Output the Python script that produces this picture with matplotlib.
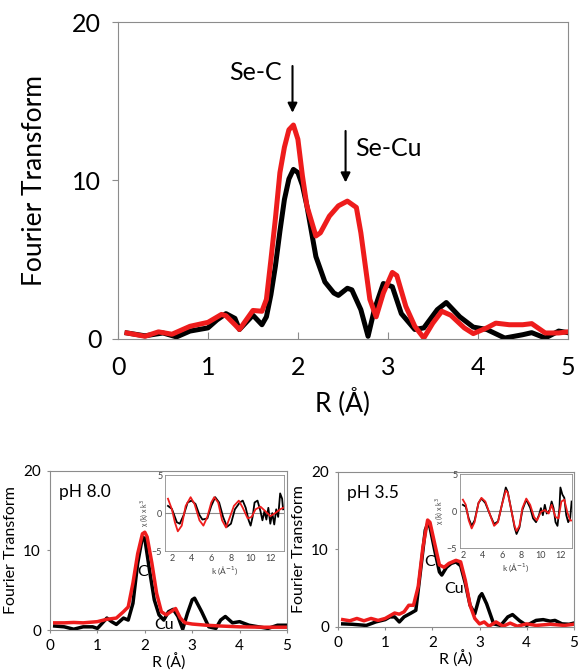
import matplotlib
matplotlib.use("Agg")
import matplotlib.pyplot as plt

plt.rcParams['font.family'] = ['Lato', 'DejaVu Sans']

# top panel: FT magnitude, R (A)
r_top_blk = [0.1, 0.3, 0.5, 0.65, 0.8, 1.0, 1.1, 1.2, 1.3, 1.35, 1.45, 1.5, 1.6, 1.65, 1.7, 1.75, 1.8, 1.85, 1.9,
             1.95, 2.0, 2.05, 2.1, 2.2, 2.3, 2.4, 2.45, 2.55, 2.6, 2.7, 2.78, 2.85, 2.95, 3.05, 3.15, 3.3, 3.4,
             3.55, 3.65, 3.8, 3.95, 4.1, 4.3, 4.5, 4.6, 4.75, 4.9, 5.0]
ft_top_blk = [0.38, 0.2, 0.38, 0.13, 0.5, 0.7, 1.2, 1.6, 1.3, 0.6, 1.2, 1.5, 0.9, 1.4, 2.8, 4.6, 6.8, 8.8, 10.1,
              10.7, 10.5, 9.7, 8.4, 5.2, 3.6, 2.9, 2.75, 3.2, 3.1, 1.85, 0.17, 1.85, 3.5, 3.3, 1.6, 0.6, 0.7,
              1.85, 2.3, 1.4, 0.75, 0.6, 0.06, 0.27, 0.4, 0.06, 0.5, 0.4]
r_top_red = [0.1, 0.3, 0.45, 0.6, 0.8, 1.0, 1.15, 1.2, 1.3, 1.35, 1.45, 1.5, 1.6, 1.65, 1.7, 1.75, 1.8, 1.85, 1.9,
             1.95, 2.0, 2.05, 2.1, 2.2, 2.25, 2.35, 2.45, 2.55, 2.65, 2.7, 2.75, 2.8, 2.87, 2.95, 3.05, 3.1, 3.2,
             3.3, 3.4, 3.5, 3.6, 3.7, 3.85, 3.95, 4.1, 4.2, 4.35, 4.5, 4.6, 4.75, 4.9, 5.0]
ft_top_red = [0.38, 0.17, 0.45, 0.3, 0.8, 1.05, 1.55, 1.47, 0.9, 0.6, 1.4, 1.8, 1.75, 2.5, 5.0, 7.6, 10.5, 12.1,
              13.2, 13.5, 12.6, 10.3, 8.4, 6.5, 6.7, 7.75, 8.4, 8.7, 8.3, 6.7, 4.6, 2.5, 1.4, 2.9, 4.2, 4.0, 2.06,
              0.8, 0.06, 1.0, 1.75, 1.5, 0.7, 0.34, 0.7, 1.0, 0.9, 0.9, 0.97, 0.38, 0.38, 0.45]

# pH 8.0 panel
r_a_blk = [0.1, 0.3, 0.5, 0.7, 0.9, 1.0, 1.1, 1.2, 1.3, 1.4, 1.55, 1.65, 1.75, 1.85, 1.95, 2.0, 2.1, 2.2, 2.3,
           2.4, 2.5, 2.6, 2.7, 2.8, 2.9, 3.0, 3.05, 3.2, 3.35, 3.5, 3.6, 3.7, 3.85, 4.0, 4.2, 4.4, 4.6, 4.8, 5.0]
ft_a_blk = [0.5, 0.4, 0.1, 0.4, 0.4, 0.2, 0.85, 1.5, 1.05, 0.7, 1.5, 1.25, 3.35, 8.4, 11.7, 11.5, 7.5, 3.8, 1.9,
            1.25, 2.3, 2.6, 1.7, 0.1, 2.1, 3.8, 4.0, 2.3, 0.4, 0.2, 1.25, 1.7, 0.9, 1.05, 0.6, 0.4, 0.2, 0.6, 0.6]
r_a_red = [0.1, 0.3, 0.5, 0.7, 1.0, 1.2, 1.4, 1.55, 1.65, 1.75, 1.85, 1.95, 2.0, 2.05, 2.15, 2.25, 2.35, 2.45,
           2.55, 2.65, 2.75, 2.85, 3.0, 3.3, 3.6, 4.0, 4.5, 5.0]
ft_a_red = [0.9, 0.9, 0.95, 0.9, 1.05, 1.35, 1.5, 2.3, 2.9, 5.9, 9.6, 12.1, 12.3, 11.7, 8.4, 4.6, 2.3, 1.9,
            2.3, 2.7, 1.5, 0.9, 0.75, 0.6, 0.5, 0.4, 0.35, 0.35]

# pH 3.5 panel
r_b_blk = [0.1, 0.3, 0.6, 0.8, 1.0, 1.1, 1.2, 1.3, 1.4, 1.55, 1.65, 1.75, 1.85, 1.9, 1.95, 2.05, 2.15, 2.2, 2.3,
           2.4, 2.5, 2.6, 2.7, 2.8, 2.9, 3.0, 3.05, 3.15, 3.3, 3.45, 3.6, 3.7, 3.85, 4.0, 4.2, 4.35, 4.5, 4.6,
           4.75, 4.9, 5.0]
ft_b_blk = [0.4, 0.35, 0.2, 0.65, 0.95, 1.3, 1.3, 0.65, 1.3, 1.8, 2.15, 7.3, 12.5, 13.3, 12.9, 9.9, 7.1, 6.7, 7.7,
            8.2, 8.4, 7.9, 5.6, 2.8, 1.7, 3.9, 4.3, 3.0, 0.4, 0.2, 1.3, 1.6, 0.8, 0.2, 0.85, 0.95, 0.75, 0.85,
            0.4, 0.35, 0.5]
r_b_red = [0.1, 0.25, 0.4, 0.55, 0.7, 0.85, 1.0, 1.2, 1.3, 1.4, 1.5, 1.6, 1.7, 1.8, 1.9, 1.95, 2.05, 2.15, 2.25,
           2.35, 2.5, 2.6, 2.7, 2.8, 2.9, 3.0, 3.1, 3.2, 3.35, 3.5, 3.65, 3.8, 4.0, 4.2, 4.5, 4.8, 5.0]
ft_b_red = [0.95, 0.8, 1.1, 0.8, 1.1, 0.85, 1.1, 1.8, 1.65, 1.95, 2.8, 2.8, 5.2, 10.3, 13.8, 13.5, 10.75, 8.0, 7.7,
            8.2, 8.6, 8.4, 6.0, 2.8, 1.1, 0.4, 0.65, 0.1, 0.65, 0.1, 0.5, 0.1, 0.4, 0.2, 0.35, 0.2, 0.35]

# insets: chi(k) * k^3
k_a_red = [1.6, 2.0, 2.3, 2.6, 3.0, 3.4, 3.9, 4.3, 4.8, 5.2, 5.6, 6.0, 6.3, 6.7, 7.1, 7.5, 7.9, 8.3, 8.8, 9.2,
           9.7, 10.1, 10.5, 11.0, 11.5, 12.0, 12.5, 13.0, 13.3]
chi_a_red = [1.9, 0.5, -1.2, -2.4, -1.65, 0.95, 2.1, 1.2, -0.95, -1.65, -0.5, 1.4, 2.1, 1.4, -0.95, -1.9, -0.5,
             0.95, 1.65, 0.7, -0.7, -0.5, 0.5, 0.85, 0.25, -0.4, 0.0, 0.5, 0.7]
k_a_blk = [1.6, 2.0, 2.5, 2.8, 3.2, 3.6, 4.0, 4.4, 4.8, 5.1, 5.6, 6.0, 6.4, 6.8, 7.2, 7.6, 8.0, 8.4, 8.9, 9.2,
           9.5, 9.8, 10.0, 10.2, 10.4, 10.7, 11.0, 11.2, 11.4, 11.6, 11.8, 12.0, 12.2, 12.4, 12.6, 12.8, 13.0,
           13.2, 13.3]
chi_a_blk = [0.95, 0.55, -1.2, -1.4, -0.25, 1.4, 1.65, 1.2, -0.25, -0.85, -0.7, 0.95, 2.1, 1.4, -0.5, -1.8, -1.4,
             0.5, 1.4, 1.65, 0.7, -0.95, -1.65, -0.5, 1.4, 1.65, 0.25, -0.95, 0.25, -0.85, 0.7, -1.4, 0.0, -1.5,
             0.5, -0.5, 2.6, 1.9, 0.5]
k_b_red = [2.0, 2.3, 2.6, 2.9, 3.2, 3.6, 3.9, 4.3, 4.8, 5.2, 5.6, 6.0, 6.4, 6.6, 7.0, 7.3, 7.5, 7.8, 8.1, 8.5,
           8.9, 9.3, 9.6, 10.0, 10.4, 10.8, 11.1, 11.5, 11.8, 12.1, 12.4, 12.7, 13.0, 13.2]
chi_b_red = [1.55, 0.85, -1.27, -2.35, -1.5, 1.1, 1.8, 1.3, -0.55, -2.0, -1.5, 0.85, 2.8, 2.5, -0.1, -2.0, -2.7,
             -2.0, 0.4, 1.7, 0.85, -0.8, -1.27, -0.1, 0.15, -0.33, 0.85, -0.8, -1.0, 1.3, 1.55, -0.1, -1.27, -1.27]
k_b_blk = [2.0, 2.3, 2.6, 2.9, 3.2, 3.6, 3.9, 4.3, 4.8, 5.2, 5.6, 6.0, 6.4, 6.6, 7.0, 7.3, 7.5, 7.8, 8.1, 8.5,
           8.9, 9.2, 9.5, 9.8, 10.0, 10.2, 10.4, 10.6, 10.9, 11.1, 11.3, 11.5, 11.7, 11.9, 12.0, 12.2, 12.4,
           12.6, 12.8, 13.0, 13.15]
chi_b_blk = [0.85, 0.6, -1.0, -2.0, -1.27, 1.1, 1.7, 1.1, -0.55, -1.75, -1.4, 0.85, 3.2, 2.6, -0.1, -2.2, -3.1,
             -2.2, 0.15, 1.55, 0.45, -1.0, -1.5, -0.55, 0.4, -0.55, 0.85, -0.33, 0.15, 1.3, 0.4, -1.5, -2.0, 0.4,
             3.2, 2.25, 1.8, -0.55, -1.5, -1.0, 1.3]

RED = '#ee1c1c'
GRAY = '#8c8c8c'

fig = plt.figure(figsize=(5.78, 6.71), dpi=100)


def frame(ax, lw=0.8):
    for s in ax.spines.values():
        s.set_color(GRAY)
        s.set_linewidth(lw)


# ---- top
ax = fig.add_axes([0.2042, 0.4948, 0.778, 0.4724])
ax.plot(r_top_blk, ft_top_blk, color='black', lw=3.6, solid_joinstyle='round')
ax.plot(r_top_red, ft_top_red, color=RED, lw=3.6, solid_joinstyle='round')
ax.set_xlim(0, 5)
ax.set_ylim(0, 20)
ax.set_xticks(range(6))
ax.set_yticks([0, 10, 20])
ax.tick_params(axis='both', labelsize=18, color=GRAY)
ax.tick_params(axis='x', direction='in', length=5, pad=12)
ax.tick_params(axis='y', direction='out', length=4, pad=8)
frame(ax)
ax.set_ylabel('Fourier Transform', fontsize=19, labelpad=18)
ax.set_xlabel('R (Å)', fontsize=19, labelpad=6)
ax.annotate('', xy=(1.94, 14.1), xytext=(1.94, 17.4),
            arrowprops=dict(arrowstyle='-|>', color='black', lw=1.5, mutation_scale=14))
ax.text(1.82, 16.8, 'Se-C', fontsize=18, ha='right', va='center')
ax.annotate('', xy=(2.53, 9.7), xytext=(2.53, 13.3),
            arrowprops=dict(arrowstyle='-|>', color='black', lw=1.5, mutation_scale=14))
ax.text(2.64, 12.0, 'Se-Cu', fontsize=18, ha='left', va='center')

# ---- bottom panels
panels = [
    ([0.0865, 0.0611, 0.410, 0.237], r_a_blk, ft_a_blk, r_a_red, ft_a_red, 'pH 8.0',
     (1.95, 7.3), (2.2, 0.6), [0.2855, 0.1788, 0.206, 0.113], k_a_blk, chi_a_blk, k_a_red, chi_a_red, (1.3, 13.4)),
    ([0.5848, 0.0656, 0.408, 0.231], r_b_blk, ft_b_blk, r_b_red, ft_b_red, 'pH 3.5',
     (1.95, 8.4), (2.25, 4.9), [0.7958, 0.1833, 0.194, 0.110], k_b_blk, chi_b_blk, k_b_red, chi_b_red, (1.7, 13.2)),
]
for pos, xb, yb, xr, yr, ph, c_pos, cu_pos, ipos, kb, cb, kr, cr, klim in panels:
    ax = fig.add_axes(pos)
    ax.plot(xb, yb, color='black', lw=2.5, solid_joinstyle='round')
    ax.plot(xr, yr, color=RED, lw=2.5, solid_joinstyle='round')
    ax.set_xlim(0, 5)
    ax.set_ylim(0, 20)
    ax.set_xticks(range(6))
    ax.set_yticks([0, 10, 20])
    ax.tick_params(axis='both', labelsize=11, color=GRAY, length=2.5, pad=4)
    frame(ax)
    ax.set_ylabel('Fourier Transform', fontsize=11.5, labelpad=4)
    ax.set_xlabel('R (Å)', fontsize=11.5, labelpad=0)
    ax.text(0.2, 17.3, ph, fontsize=12.5, ha='left', va='center')
    ax.text(c_pos[0], c_pos[1], 'C', fontsize=11.5, ha='center', va='center')
    ax.text(cu_pos[0], cu_pos[1], 'Cu', fontsize=11.5, ha='left', va='center')

    ins = fig.add_axes(ipos)
    ins.axhline(0, color=GRAY, lw=0.8)
    ins.plot(kb, cb, color='black', lw=1.3)
    ins.plot(kr, cr, color=RED, lw=1.3)
    ins.set_xlim(*klim)
    ins.set_ylim(-5, 5)
    ins.set_xticks([2, 4, 6, 8, 10, 12])
    ins.set_yticks([-5, 0, 5])
    ins.tick_params(axis='both', labelsize=6.5, length=0, pad=2, colors='#444444')
    frame(ins, 0.6)
    ins.set_ylabel('χ (k) x k$^3$', fontsize=5, labelpad=1, color='#444444')
    ins.set_xlabel('k (Å$^{-1}$)', fontsize=6, labelpad=1, color='#444444')

fig.savefig('out.png', dpi=100)
